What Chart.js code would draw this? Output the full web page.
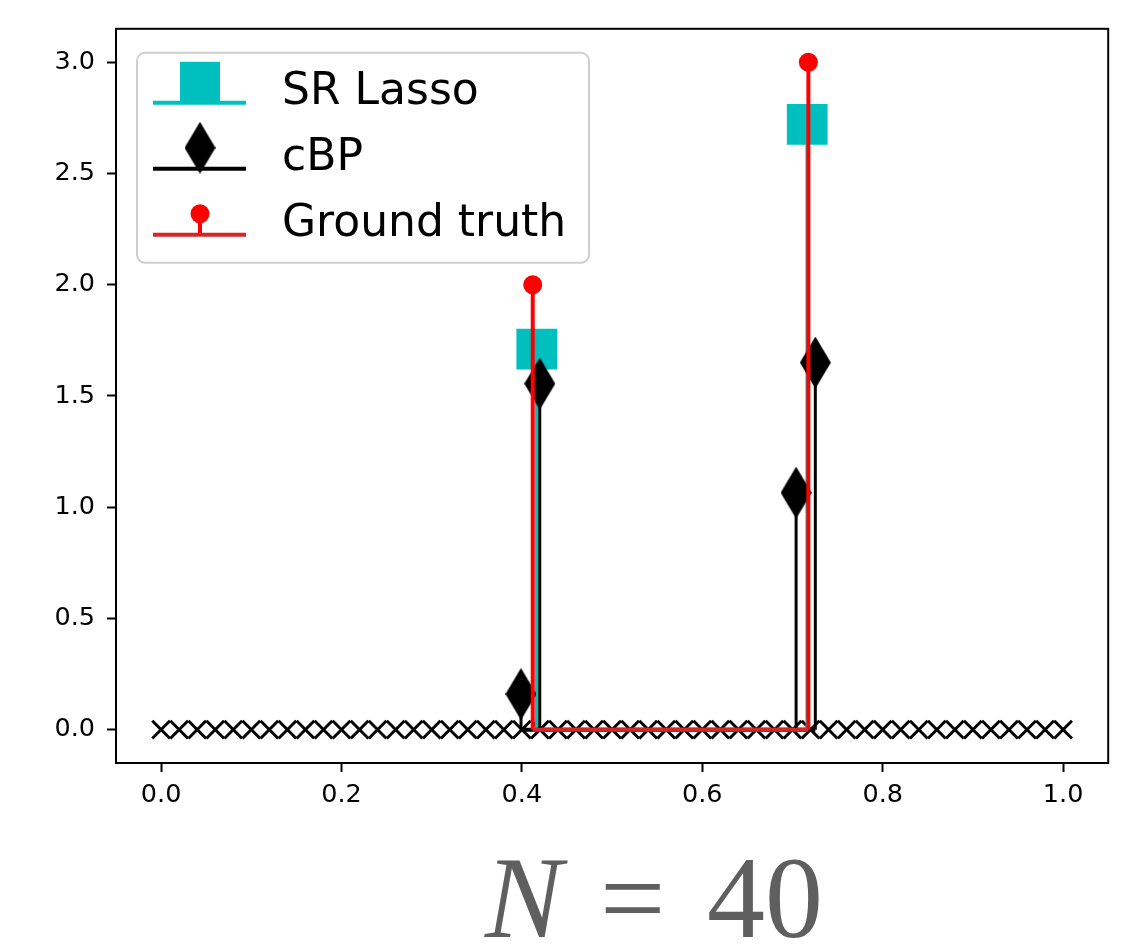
<!DOCTYPE html>
<html>
<head>
<meta charset="utf-8">
<script src="https://cdn.jsdelivr.net/npm/chart.js@4.4.1/dist/chart.umd.min.js"></script>
<style>
  html, body { margin: 0; padding: 0; background: #fff; }
  #wrap { width: 1137px; height: 946px; position: relative; }
</style>
</head>
<body>
<div id="wrap"><canvas id="chart" width="1137" height="946"></canvas></div>
<script>
// grid points, drawn as x markers on the zero line
const gridX = [0, 0.02, 0.04, 0.06, 0.08, 0.1, 0.12, 0.14, 0.16, 0.18,
  0.2, 0.22, 0.24, 0.26, 0.28, 0.3, 0.32, 0.34, 0.36, 0.38,
  0.4, 0.42, 0.44, 0.46, 0.48, 0.5, 0.52, 0.54, 0.56, 0.58,
  0.6, 0.62, 0.64, 0.66, 0.68, 0.7, 0.72, 0.74, 0.76, 0.78,
  0.8, 0.82, 0.84, 0.86, 0.88, 0.9, 0.92, 0.94, 0.96, 0.98, 1.0];

const lassoX = [0.4165, 0.7163];
const lassoY = [1.71, 2.72];
const cbpX = [0.399, 0.4198, 0.704, 0.7253];
const cbpY = [0.16, 1.555, 1.065, 1.65];
const truthX = [0.412, 0.7176];
const truthY = [2.0, 3.0];

const xTicks = [0, 0.2, 0.4, 0.6, 0.8, 1.0];
const yTicks = [0, 0.5, 1.0, 1.5, 2.0, 2.5, 3.0];
const seriesLabels = ['SR Lasso', 'cBP', 'Ground truth'];

const CYAN = '#00bfbf';
const RED = '#ff0000';
const BASE_RED = '#d62728';

// thin diamond marker ('d' in matplotlib)
function thinDiamond(w, h) {
    const c = document.createElement('canvas');
    c.width = w; c.height = h;
    const g = c.getContext('2d');
    g.fillStyle = '#000';
    g.beginPath();
    g.moveTo(w / 2, 0);
    g.lineTo(w, h / 2);
    g.lineTo(w / 2, h);
    g.lineTo(0, h / 2);
    g.closePath();
    g.fill();
    return c;
}
const diamond = thinDiamond(31, 52);

function stems(xs, ys) {
    const pts = [];
    xs.forEach((x, i) => { pts.push({x: x, y: 0}, {x: x, y: ys[i]}, {x: x, y: null}); });
    return pts;
}
function baseline(xs) {
    return [{x: Math.min(...xs), y: 0}, {x: Math.max(...xs), y: 0}];
}
function markers(xs, ys) {
    return xs.map((x, i) => ({x: x, y: ys[i]}));
}

function lineSet(data, color, width, order) {
    return { data: data, showLine: true, spanGaps: false, borderColor: color, borderWidth: width,
             pointRadius: 0, pointHoverRadius: 0, borderCapStyle: 'butt', order: order };
}

// no extra room for label overhang: the plot box is set by padding + axis sizes
function noOverhang(scale) {
    scale.paddingTop = 0; scale.paddingBottom = 0;
    scale.paddingLeft = 0; scale.paddingRight = 0;
}

// frame round the plot area
const framePlugin = {
    id: 'frame',
    afterDatasetsDraw(chart) {
        const a = chart.chartArea, ctx = chart.ctx;
        ctx.save();
        ctx.strokeStyle = '#000';
        ctx.lineWidth = 2;
        ctx.strokeRect(a.left, a.top, a.right - a.left, a.bottom - a.top);
        ctx.restore();
    }
};

// legend box with stem handles, upper left
const legendPlugin = {
    id: 'stemLegend',
    afterDraw(chart) {
        const a = chart.chartArea, ctx = chart.ctx;
        const bx = a.left + 21, by = a.top + 24, bw = 452, bh = 210, r = 8;
        ctx.save();
        ctx.beginPath();
        ctx.moveTo(bx + r, by);
        ctx.arcTo(bx + bw, by, bx + bw, by + bh, r);
        ctx.arcTo(bx + bw, by + bh, bx, by + bh, r);
        ctx.arcTo(bx, by + bh, bx, by, r);
        ctx.arcTo(bx, by, bx + bw, by, r);
        ctx.closePath();
        ctx.fillStyle = 'rgba(255,255,255,0.8)';
        ctx.fill();
        ctx.strokeStyle = '#cfcfcf';
        ctx.lineWidth = 2;
        ctx.stroke();

        const handles = [
            {base: CYAN, stem: CYAN, mark: 'square'},
            {base: '#000', stem: '#000', mark: 'diamond'},
            {base: BASE_RED, stem: RED, mark: 'circle'}
        ];
        ctx.font = '44px "DejaVu Sans"';
        ctx.textBaseline = 'alphabetic';
        ctx.textAlign = 'left';
        handles.forEach((h, i) => {
            const ly = by + 50 + 66 * i;
            const cx = bx + 63;
            const my = ly - 21;
            ctx.lineCap = 'butt';
            ctx.strokeStyle = h.stem;
            ctx.lineWidth = 4;
            ctx.beginPath(); ctx.moveTo(cx, ly); ctx.lineTo(cx, my); ctx.stroke();
            if (h.mark === 'square') {
                ctx.fillStyle = CYAN;
                ctx.fillRect(cx - 20, my - 20, 40, 40);
            } else if (h.mark === 'diamond') {
                ctx.drawImage(diamond, cx - diamond.width / 2, my - diamond.height / 2);
            } else {
                ctx.fillStyle = RED;
                ctx.beginPath(); ctx.arc(cx, my, 9.5, 0, Math.PI * 2); ctx.fill();
            }
            ctx.strokeStyle = h.base;
            ctx.lineWidth = 4;
            ctx.beginPath(); ctx.moveTo(bx + 16, ly); ctx.lineTo(bx + 109, ly); ctx.stroke();
            ctx.fillStyle = '#000';
            ctx.fillText(seriesLabels[i], bx + 145, ly + 1);
        });
        ctx.restore();
    }
};

// "N = 40" caption under the axes
const captionPlugin = {
    id: 'caption',
    afterDraw(chart) {
        const ctx = chart.ctx;
        ctx.save();
        ctx.fillStyle = '#5f5f5f';
        ctx.textBaseline = 'alphabetic';
        ctx.textAlign = 'left';
        ctx.font = 'italic 116px "Liberation Serif"';
        ctx.fillText('N', 485, 937);
        ctx.font = '116px "Liberation Serif"';
        ctx.fillText('=', 600, 937);
        ctx.fillText('40', 707, 937);
        ctx.restore();
    }
};

const tickFont = { family: '"DejaVu Sans"', size: 25.5 };

new Chart(document.getElementById('chart'), {
    type: 'scatter',
    data: {
        datasets: [
            { data: gridX.map(x => ({x: x, y: 0})), pointStyle: 'crossRot', pointRadius: 12.5,
              pointHoverRadius: 12.5, borderColor: '#000', pointBorderWidth: 3, order: 10 },

            lineSet(stems(lassoX, lassoY), CYAN, 3.5, 9),
            { data: markers(lassoX, lassoY), pointStyle: 'rect', pointRadius: 28.8, pointHoverRadius: 28.8,
              backgroundColor: CYAN, borderWidth: 0, pointBorderWidth: 0, order: 8 },
            lineSet(baseline(lassoX), CYAN, 4, 7),

            lineSet(stems(cbpX, cbpY), '#000', 3, 6),
            { data: markers(cbpX, cbpY), pointStyle: diamond, pointRadius: 20, pointHoverRadius: 20,
              order: 5 },
            lineSet(baseline(cbpX), '#000', 4, 4),

            lineSet(stems(truthX, truthY), RED, 4, 3),
            { data: markers(truthX, truthY), pointStyle: 'circle', pointRadius: 9.5, pointHoverRadius: 9.5,
              backgroundColor: RED, borderWidth: 0, pointBorderWidth: 0, order: 2 },
            lineSet(baseline(truthX), BASE_RED, 4, 1)
        ]
    },
    options: {
        responsive: false,
        animation: false,
        layout: { padding: { top: 18, right: 21, left: 0, bottom: 0 } },
        plugins: { legend: { display: false }, tooltip: { enabled: false } },
        scales: {
            x: {
                type: 'linear', min: -0.05, max: 1.05,
                afterBuildTicks: axis => { axis.ticks = xTicks.map(v => ({value: v})); },
                afterFit: scale => { scale.height = 183; noOverhang(scale); },
                ticks: { font: tickFont, color: '#000', padding: 8, maxRotation: 0, autoSkip: false,
                         callback: v => v.toFixed(1) },
                grid: { drawOnChartArea: false, drawTicks: true, tickLength: 9, tickWidth: 2, tickColor: '#000' },
                border: { display: false }
            },
            y: {
                type: 'linear', min: -0.15, max: 3.15,
                afterBuildTicks: axis => { axis.ticks = yTicks.map(v => ({value: v})); },
                afterFit: scale => { scale.width = 116; noOverhang(scale); },
                ticks: { font: tickFont, color: '#000', padding: 12, autoSkip: false,
                         callback: v => v.toFixed(1) },
                grid: { drawOnChartArea: false, drawTicks: true, tickLength: 9, tickWidth: 2, tickColor: '#000' },
                border: { display: false }
            }
        }
    },
    plugins: [framePlugin, legendPlugin, captionPlugin]
});
</script>
</body>
</html>
